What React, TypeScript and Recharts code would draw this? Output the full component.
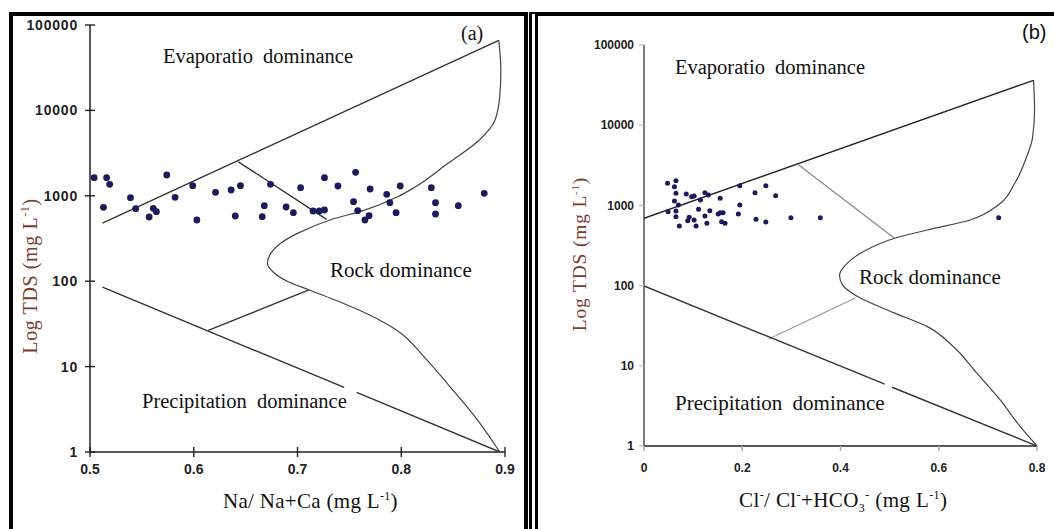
import React from "react";
import { ScatterChart, Scatter, XAxis, YAxis } from "recharts";

// ---------- Panel (a): Na/(Na+Ca) ----------
const aXTicks = [0.5, 0.6, 0.7, 0.8, 0.9];
const yTicks = [1, 10, 100, 1000, 10000, 100000];

const aSamples = [
  { x: 0.504, y: 1630 }, { x: 0.516, y: 1630 }, { x: 0.519, y: 1364 }, { x: 0.513, y: 733 },
  { x: 0.539, y: 950 }, { x: 0.544, y: 706 }, { x: 0.557, y: 565 }, { x: 0.561, y: 714 },
  { x: 0.564, y: 651 }, { x: 0.574, y: 1753 }, { x: 0.582, y: 960 }, { x: 0.599, y: 1315 },
  { x: 0.603, y: 521 }, { x: 0.621, y: 1099 }, { x: 0.636, y: 1169 }, { x: 0.640, y: 580 },
  { x: 0.645, y: 1315 }, { x: 0.666, y: 569 }, { x: 0.668, y: 766 }, { x: 0.674, y: 1364 },
  { x: 0.689, y: 739 }, { x: 0.696, y: 634 }, { x: 0.703, y: 1244 }, { x: 0.715, y: 664 },
  { x: 0.721, y: 664 }, { x: 0.726, y: 1630 }, { x: 0.726, y: 682 }, { x: 0.739, y: 1303 },
  { x: 0.754, y: 853 }, { x: 0.756, y: 1884 }, { x: 0.758, y: 670 }, { x: 0.765, y: 521 },
  { x: 0.769, y: 585 }, { x: 0.770, y: 1202 }, { x: 0.786, y: 1040 }, { x: 0.789, y: 830 },
  { x: 0.795, y: 634 }, { x: 0.799, y: 1303 }, { x: 0.829, y: 1244 }, { x: 0.833, y: 830 },
  { x: 0.833, y: 612 }, { x: 0.855, y: 766 }, { x: 0.880, y: 1069 },
];

const aUpperLine = [{ x: 0.512, y: 480 }, { x: 0.894, y: 66000 }];
const aCurve = [
  { x: 0.894, y: 66000 }, { x: 0.896, y: 30000 }, { x: 0.895, y: 15000 }, { x: 0.890, y: 7500 },
  { x: 0.875, y: 4470 }, { x: 0.845, y: 2400 }, { x: 0.813, y: 1260 }, { x: 0.797, y: 980 },
  { x: 0.764, y: 676 }, { x: 0.732, y: 525 }, { x: 0.700, y: 363 }, { x: 0.684, y: 280 },
  { x: 0.674, y: 210 }, { x: 0.671, y: 162 }, { x: 0.676, y: 130 }, { x: 0.690, y: 100 },
  { x: 0.710, y: 80 }, { x: 0.735, y: 61 }, { x: 0.768, y: 41 }, { x: 0.797, y: 26 },
  { x: 0.822, y: 13 }, { x: 0.846, y: 6 }, { x: 0.871, y: 2.6 }, { x: 0.895, y: 1 },
];
const aDividerTop = [{ x: 0.643, y: 2500 }, { x: 0.728, y: 530 }];
const aDividerBottom = [{ x: 0.614, y: 26.5 }, { x: 0.711, y: 79 }];
const aPrecipLeft = [{ x: 0.512, y: 85 }, { x: 0.745, y: 5.7 }];
const aPrecipRight = [{ x: 0.757, y: 5.0 }, { x: 0.895, y: 1 }];

// ---------- Panel (b): Cl/(Cl+HCO3) ----------
const bXTicks = [0, 0.2, 0.4, 0.6, 0.8];

const bSamples = [
  { x: 0.048, y: 1885 }, { x: 0.065, y: 2032 }, { x: 0.062, y: 1710 }, { x: 0.065, y: 1413 },
  { x: 0.062, y: 1134 }, { x: 0.049, y: 834 }, { x: 0.065, y: 851 }, { x: 0.065, y: 723 },
  { x: 0.070, y: 1012 }, { x: 0.072, y: 553 }, { x: 0.086, y: 1387 }, { x: 0.097, y: 1285 },
  { x: 0.102, y: 1310 }, { x: 0.115, y: 1167 }, { x: 0.124, y: 1441 }, { x: 0.131, y: 1349 },
  { x: 0.111, y: 894 }, { x: 0.134, y: 859 }, { x: 0.124, y: 738 }, { x: 0.155, y: 1225 },
  { x: 0.155, y: 811 }, { x: 0.161, y: 811 }, { x: 0.151, y: 781 }, { x: 0.158, y: 627 },
  { x: 0.165, y: 598 }, { x: 0.092, y: 711 }, { x: 0.089, y: 645 }, { x: 0.102, y: 657 },
  { x: 0.106, y: 553 }, { x: 0.128, y: 598 }, { x: 0.195, y: 1762 }, { x: 0.195, y: 1012 },
  { x: 0.192, y: 781 }, { x: 0.226, y: 1441 }, { x: 0.248, y: 1762 }, { x: 0.268, y: 1321 },
  { x: 0.228, y: 671 }, { x: 0.248, y: 621 }, { x: 0.299, y: 703 }, { x: 0.359, y: 703 },
  { x: 0.722, y: 703 },
];

const bUpperLine = [{ x: 0, y: 690 }, { x: 0.793, y: 36300 }];
const bCurve = [
  { x: 0.793, y: 36300 }, { x: 0.795, y: 15500 }, { x: 0.791, y: 7000 }, { x: 0.778, y: 3900 },
  { x: 0.755, y: 1900 }, { x: 0.720, y: 1000 }, { x: 0.664, y: 658 }, { x: 0.576, y: 493 },
  { x: 0.510, y: 389 }, { x: 0.445, y: 262 }, { x: 0.410, y: 180 }, { x: 0.398, y: 135 },
  { x: 0.404, y: 102 }, { x: 0.433, y: 74 }, { x: 0.508, y: 46 }, { x: 0.576, y: 31 },
  { x: 0.630, y: 17.3 }, { x: 0.678, y: 8.05 }, { x: 0.725, y: 3.75 }, { x: 0.766, y: 1.74 },
  { x: 0.800, y: 1 },
];
const bDividerTop = [{ x: 0.313, y: 3250 }, { x: 0.510, y: 389 }];
const bDividerBottom = [{ x: 0.254, y: 21.6 }, { x: 0.430, y: 70 }];
const bPrecipLeft = [{ x: 0, y: 99 }, { x: 0.49, y: 5.9 }];
const bPrecipRight = [{ x: 0.505, y: 5.4 }, { x: 0.800, y: 1 }];

const DOT = "#1b1b5c";
const LABEL_BROWN = "#7a3e30";
const SERIF = "'Liberation Serif', 'DejaVu Serif', serif";
const SANS = "'Liberation Sans', Arial, sans-serif";

const NoShape = () => <g />;

const lineSeries = (data: { x: number; y: number }[], color: string, width: number, smooth = false, key = "") => (
  <Scatter
    key={key}
    data={data}
    shape={NoShape}
    line={{ stroke: color, strokeWidth: width, fill: "none" }}
    lineJointType={smooth ? "monotoneY" : "linear"}
    isAnimationActive={false}
    legendType="none"
  />
);

const dotShape = (r: number) => (props: any) => {
  const { cx, cy } = props;
  if (cx == null || cy == null) return <g />;
  return <circle cx={cx} cy={cy} r={r} fill={DOT} />;
};

// Panel (a) ticks: cross-shaped tick marks through the axis line
const A_TICK_SIZE = 6;
const A_TICK_MARGIN = 6;
const aYTick = (props: any) => {
  const { x, y, payload } = props;
  const ax = x + A_TICK_SIZE + A_TICK_MARGIN;
  return (
    <g>
      <line x1={ax - 5} x2={ax + 5} y1={y} y2={y} stroke="#222" strokeWidth={1.4} />
      <text x={x} y={y} dy="0.36em" textAnchor="end" fontSize={14} fontWeight={700} fill="#222" fontFamily={SANS} letterSpacing={0.8}>
        {payload.value}
      </text>
    </g>
  );
};
const aXTick = (props: any) => {
  const { x, y, payload } = props;
  const ay = y - A_TICK_SIZE - A_TICK_MARGIN;
  return (
    <g>
      <line x1={x} x2={x} y1={ay - 5} y2={ay + 5} stroke="#222" strokeWidth={1.4} />
      <text x={x} y={y} dy="0.71em" textAnchor="middle" fontSize={14} fontWeight={700} fill="#222" fontFamily={SANS}>
        {payload.value}
      </text>
    </g>
  );
};

const supStyle: React.CSSProperties = { fontSize: 12, lineHeight: 0 };
const subStyle: React.CSSProperties = { fontSize: 12, lineHeight: 0 };

const txt = (style: React.CSSProperties, content: React.ReactNode) => (
  <div style={{ position: "absolute", whiteSpace: "nowrap", fontFamily: SERIF, color: "#111", lineHeight: 1, ...style }}>
    {content}
  </div>
);

export default function App() {
  return (
    <div style={{ position: "absolute", left: 0, top: 0, width: 1054, height: 529, background: "#fff", overflow: "hidden" }}>
      {/* frames */}
      <div style={{ position: "absolute", left: 9, top: 12, width: 511, height: 540, borderLeft: "4px solid #000", borderTop: "4px solid #000", borderRight: "4px solid #000" }} />
      <div style={{ position: "absolute", left: 529, top: 12, width: 540, height: 540, borderLeft: "9px double #000", borderTop: "4px solid #000" }} />

      {/* Panel (a) */}
      <div style={{ position: "absolute", left: 0, top: 0 }}>
        <ScatterChart width={527} height={529} margin={{ top: 25, right: 22, bottom: 37, left: 30 }}>
          <XAxis
            type="number"
            dataKey="x"
            domain={[0.5, 0.9]}
            ticks={aXTicks}
            allowDataOverflow
            height={40}
            stroke="#222"
            strokeWidth={1.5}
            tickLine={false}
            tickSize={A_TICK_SIZE}
            tickMargin={A_TICK_MARGIN}
            tick={aXTick}
          />
          <YAxis
            type="number"
            dataKey="y"
            scale="log"
            domain={[1, 100000]}
            ticks={yTicks}
            allowDataOverflow
            width={60}
            stroke="#222"
            strokeWidth={1.5}
            tickLine={false}
            tickSize={A_TICK_SIZE}
            tickMargin={A_TICK_MARGIN}
            tick={aYTick}
          />
          {lineSeries(aUpperLine, "#333", 1.4, false, "au")}
          {lineSeries(aCurve, "#444", 1.2, true, "ac")}
          {lineSeries(aDividerTop, "#333", 1.4, false, "ad1")}
          {lineSeries(aDividerBottom, "#333", 1.4, false, "ad2")}
          {lineSeries(aPrecipLeft, "#333", 1.4, false, "ap1")}
          {lineSeries(aPrecipRight, "#333", 1.4, false, "ap2")}
          <Scatter data={aSamples} shape={dotShape(3.4)} isAnimationActive={false} legendType="none" />
        </ScatterChart>
      </div>

      {/* Panel (b) */}
      <div style={{ position: "absolute", left: 527, top: 0 }}>
        <ScatterChart width={527} height={529} margin={{ top: 45, right: 17, bottom: 43, left: 57 }}>
          <XAxis
            type="number"
            dataKey="x"
            domain={[0, 0.8]}
            ticks={bXTicks}
            allowDataOverflow
            height={40}
            stroke="#222"
            strokeWidth={1.5}
            tickLine={{ stroke: "#aaa" }}
            tickSize={5}
            tickMargin={12}
            tick={{ fontSize: 12, fontWeight: 700, fill: "#222", fontFamily: SANS }}
          />
          <YAxis
            type="number"
            dataKey="y"
            scale="log"
            domain={[1, 100000]}
            ticks={yTicks}
            allowDataOverflow
            width={60}
            stroke="#222"
            strokeWidth={1.2}
            tickLine={{ stroke: "#bbb" }}
            tickSize={5}
            tickMargin={5}
            tick={{ fontSize: 12, fontWeight: 700, fill: "#222", fontFamily: SANS }}
          />
          {lineSeries(bUpperLine, "#222", 1.4, false, "bu")}
          {lineSeries(bCurve, "#444", 1.2, true, "bc")}
          {lineSeries(bDividerTop, "#888", 1.2, false, "bd1")}
          {lineSeries(bDividerBottom, "#999", 1.2, false, "bd2")}
          {lineSeries(bPrecipLeft, "#333", 1.4, false, "bp1")}
          {lineSeries(bPrecipRight, "#333", 1.4, false, "bp2")}
          <Scatter data={bSamples} shape={dotShape(2.5)} isAnimationActive={false} legendType="none" />
        </ScatterChart>
      </div>

      {/* Panel (a) texts */}
      {txt({ left: 163, top: 46, fontSize: 20.5, wordSpacing: 5 }, "Evaporatio dominance")}
      {txt({ left: 461, top: 23, fontSize: 20 }, "(a)")}
      {txt({ left: 330, top: 260, fontSize: 21 }, "Rock dominance")}
      {txt({ left: 142, top: 391, fontSize: 20.5, wordSpacing: 5 }, "Precipitation dominance")}
      {txt({ left: 223, top: 491, fontSize: 21, letterSpacing: 0.3 }, <>Na/ Na+Ca (mg L<sup style={supStyle}>-1</sup>)</>)}
      {txt({ left: 30, top: 276, fontSize: 20, letterSpacing: 0.6, color: LABEL_BROWN, transform: "translate(-50%, -50%) rotate(-90deg)" }, <>Log TDS (mg  L<sup style={supStyle}>-1</sup>)</>)}

      {/* Panel (b) texts */}
      {txt({ left: 675, top: 57, fontSize: 20.5, wordSpacing: 5 }, "Evaporatio dominance")}
      {txt({ left: 1022, top: 22, fontSize: 20, fontFamily: SANS }, "(b)")}
      {txt({ left: 859, top: 267, fontSize: 21 }, "Rock dominance")}
      {txt({ left: 675, top: 393, fontSize: 21, wordSpacing: 5 }, "Precipitation dominance")}
      {txt({ left: 739, top: 490, fontSize: 21, letterSpacing: 0.4 }, <>Cl<sup style={supStyle}>-</sup>/ Cl<sup style={supStyle}>-</sup>+HCO<sub style={subStyle}>3</sub><sup style={supStyle}>-</sup> (mg  L<sup style={supStyle}>-1</sup>)</>)}
      {txt({ left: 580, top: 254, fontSize: 19.5, letterSpacing: 0.8, color: LABEL_BROWN, transform: "translate(-50%, -50%) rotate(-90deg)" }, <>Log TDS (mg  L<sup style={{ fontSize: 11, lineHeight: 0 }}>-1</sup>)</>)}
    </div>
  );
}
